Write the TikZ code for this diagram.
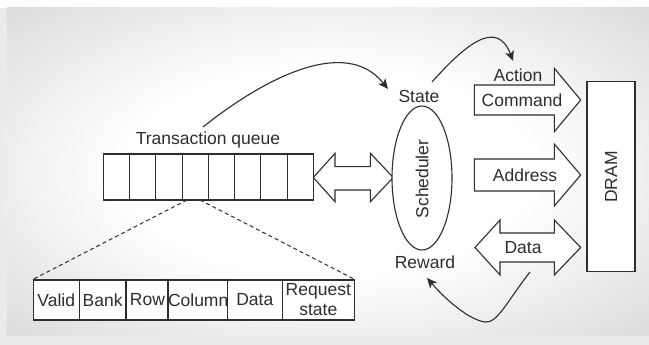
\documentclass[tikz,border=0pt]{standalone}
\usepackage{fontspec}
\setmainfont{Liberation Sans}
\usetikzlibrary{shapes.geometric,arrows.meta,calc}
\definecolor{ink}{HTML}{2E2E2E}
\definecolor{bggray}{HTML}{C8C8C8}
\pgfdeclareradialshading{bgshade}{\pgfpoint{0bp}{0bp}}{color(0bp)=(white); color(16bp)=(white); color(46bp)=(bggray); color(100bp)=(bggray)}
\begin{document}
\begin{tikzpicture}[x=1pt,y=-1pt,
  lbl/.style={font=\fontsize{17.5}{21}\selectfont, text=ink, inner sep=0pt, align=center},
  box/.style={draw=ink, line width=1.1pt, fill=white},
  blk/.style={draw=ink, line width=1.1pt, fill=white, line join=miter},
  cell/.style={box, lbl, minimum height=40pt, inner sep=0pt},
  conn/.style={draw=ink, line width=1.1pt, -{Stealth[length=10pt,width=9pt,inset=2.5pt]}},
  dsh/.style={draw=ink, line width=1pt, dash pattern=on 4pt off 3pt}]
\useasboundingbox (0,0) rectangle (649,345);
\fill[black!8] (0,0) rectangle (649,345);
\fill[white] (0,0) rectangle (649,8);
\shade[shading=bgshade] (7,8) rectangle (649,335);

% transaction queue
\node[lbl] (qlabel) at (208,140) {Transaction queue};
\node[box, minimum width=210pt, minimum height=46pt, inner sep=0pt] (queue) at (208.3,177) {};
\foreach \i in {1,...,7}
  \draw[ink, line width=1.1pt] ({103.3+\i*26.25},154) -- ({103.3+\i*26.25},200);

% detail record
\node[cell, minimum width=46pt] (valid) at (56.3,300) {Valid};
\node[cell, minimum width=46.7pt] (bank) at (102.65,300) {Bank};
\node[cell, minimum width=43pt] (row) at (147.5,300) {Row};
\node[cell, minimum width=58.3pt] (column) at (198.15,300) {Column};
\node[cell, minimum width=55pt] (data) at (254.8,300) {Data};
\node[cell, minimum width=72pt] (reqstate) at (318.3,300) {Request\\[-1pt]state};

\coordinate (dl) at (187,200);
\coordinate (dr) at (200,200);
\path[dsh] (dl) -- (valid.north west);
\path[dsh] (dr) -- (reqstate.north east);

% queue <-> scheduler
\path[blk] (313.3,177.5) -- (335,153.3) -- (335,166.7) -- (370.4,166.7) -- (370.4,153.3) -- (393.2,177.5) -- (370.4,201.7) -- (370.4,190) -- (335,190) -- (335,201.7) -- cycle;

% scheduler
\node[ellipse, box, minimum width=60pt, minimum height=144pt, inner sep=0pt] (sched) at (422,178) {};
\node[lbl, rotate=90] (schedtext) at (422,179) {Scheduler};
\node[lbl] (state) at (419,96) {State};
\node[lbl] (reward) at (425,262) {Reward};

% command / address / data
\path[blk] (474.3,85) -- (554.3,85) -- (554.3,68.3) -- (580.7,100) -- (554.3,131.7) -- (554.3,115) -- (474.3,115) -- cycle;
\node[lbl] (action) at (518,75) {Action};
\node[lbl] (command) at (522,100) {Command};

\path[blk] (474.3,159) -- (554.3,159) -- (554.3,144) -- (580.7,175) -- (554.3,206) -- (554.3,191) -- (474.3,191) -- cycle;
\node[lbl] (address) at (525,175) {Address};

\path[blk] (475,247.5) -- (500,220) -- (500,233) -- (554.3,233) -- (554.3,220) -- (580.7,247.5) -- (554.3,275) -- (554.3,262) -- (500,262) -- (500,275) -- cycle;
\node[lbl] (datalbl) at (523,247.5) {Data};

% DRAM
\node[box, minimum width=48pt, minimum height=190pt, inner sep=0pt] (dram) at (611,176.7) {};
\node[lbl, rotate=90] (dramtext) at (611,177) {DRAM};

% curved connectors
\coordinate (c1s) at (203,127);
\coordinate (c1e) at (388,89);
\coordinate (c2s) at (432,82);
\coordinate (c2e) at (513,61);
\coordinate (c3s) at (530,272);
\coordinate (c3b) at (485,322);
\coordinate (c3e) at (427,278);
\path[conn] (c1s) .. controls (262,80) and (345,35) .. (c1e);
\path[conn] (c2s) .. controls (465,45) and (497,18) .. (c2e);
\path[conn] (c3s) .. controls (508,300) and (497,324) .. (c3b) .. controls (470,320) and (448,302) .. (c3e);
\end{tikzpicture}
\end{document}
